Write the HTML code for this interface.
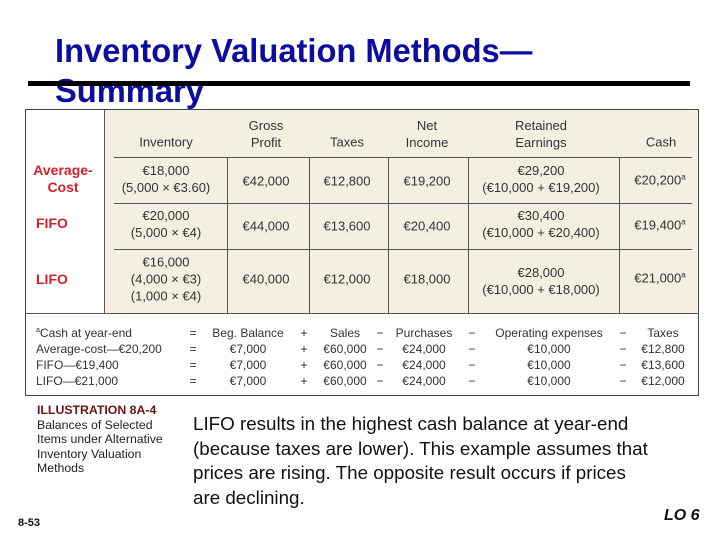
<!DOCTYPE html>
<html><head><meta charset="utf-8">
<style>
body{margin:0;width:720px;height:540px;background:#fff;position:relative;overflow:hidden;font-family:"Liberation Sans",sans-serif;}
.a{position:absolute;white-space:nowrap;}
.c{position:absolute;white-space:nowrap;transform:translate(-50%,-50%);font-size:13px;color:#333;line-height:1;}
.l{position:absolute;white-space:nowrap;transform:translateY(-50%);font-size:12.5px;color:#333;line-height:1;}
.r{color:#d4202a;font-weight:bold;font-size:14px;}
.hl{position:absolute;height:1px;background:#555;}
.vl{position:absolute;width:1px;background:#555;}
</style></head><body>
<div class="a" style="left:55px;top:31px;font-size:33px;font-weight:bold;color:#0c0ca0;line-height:40px;transform:scaleX(0.99);transform-origin:left top;">Inventory Valuation Methods—<br>Summary</div>
<div class="a" style="left:28px;top:81px;width:662px;height:5px;background:#000;"></div>

<div class="a" style="left:25px;top:109px;width:674px;height:287px;border:1px solid #444;box-sizing:border-box;background:#fff;"></div>
<div class="a" style="left:104px;top:110px;width:594px;height:203px;background:#f3f0e2;"></div>
<div class="vl" style="left:104px;top:110px;height:203px;"></div>
<div class="hl" style="left:25px;top:313px;width:674px;"></div>
<div class="hl" style="left:114px;top:157px;width:578px;"></div>
<div class="hl" style="left:114px;top:203px;width:578px;"></div>
<div class="hl" style="left:114px;top:249px;width:578px;"></div>
<div class="vl" style="left:227px;top:157px;height:156px;"></div>
<div class="vl" style="left:309px;top:157px;height:156px;"></div>
<div class="vl" style="left:388px;top:157px;height:156px;"></div>
<div class="vl" style="left:468px;top:157px;height:156px;"></div>
<div class="vl" style="left:619px;top:157px;height:156px;"></div>

<div class="c" style="left:166px;top:142px;">Inventory</div>
<div class="c" style="left:266px;top:134px;line-height:17px;text-align:center;">Gross<br>Profit</div>
<div class="c" style="left:347px;top:142px;">Taxes</div>
<div class="c" style="left:427px;top:134px;line-height:17px;text-align:center;">Net<br>Income</div>
<div class="c" style="left:541px;top:134px;line-height:17px;text-align:center;">Retained<br>Earnings</div>
<div class="c" style="left:661px;top:142px;">Cash</div>

<div class="c r" style="left:63px;top:179px;line-height:17px;text-align:center;">Average-<br>Cost</div>
<div class="l r" style="left:36px;top:223px;">FIFO</div>
<div class="l r" style="left:36px;top:279px;">LIFO</div>

<div class="c" style="left:166px;top:179px;line-height:17px;text-align:center;">€18,000<br>(5,000 × €3.60)</div>
<div class="c" style="left:266px;top:181px;">€42,000</div>
<div class="c" style="left:347px;top:181px;">€12,800</div>
<div class="c" style="left:427px;top:181px;">€19,200</div>
<div class="c" style="left:541px;top:179px;line-height:17px;text-align:center;">€29,200<br>(€10,000 + €19,200)</div>
<div class="c" style="left:660px;top:180px;">€20,200<sup style="font-size:8px">a</sup></div>

<div class="c" style="left:166px;top:224px;line-height:17px;text-align:center;">€20,000<br>(5,000 × €4)</div>
<div class="c" style="left:266px;top:226px;">€44,000</div>
<div class="c" style="left:347px;top:226px;">€13,600</div>
<div class="c" style="left:427px;top:226px;">€20,400</div>
<div class="c" style="left:541px;top:224px;line-height:17px;text-align:center;">€30,400<br>(€10,000 + €20,400)</div>
<div class="c" style="left:660px;top:225px;">€19,400<sup style="font-size:8px">a</sup></div>

<div class="c" style="left:166px;top:279px;line-height:17px;text-align:center;">€16,000<br>(4,000 × €3)<br>(1,000 × €4)</div>
<div class="c" style="left:266px;top:279px;">€40,000</div>
<div class="c" style="left:347px;top:279px;">€12,000</div>
<div class="c" style="left:427px;top:279px;">€18,000</div>
<div class="c" style="left:541px;top:281px;line-height:17px;text-align:center;">€28,000<br>(€10,000 + €18,000)</div>
<div class="c" style="left:660px;top:278px;">€21,000<sup style="font-size:8px">a</sup></div>

<div style="position:absolute;left:0;top:0;">
<div class="l" style="left:36px;top:333px;font-size:12px;"><sup style="font-size:7px">a</sup>Cash at year-end</div>
<div class="l" style="left:36px;top:349px;font-size:12px;">Average-cost—€20,200</div>
<div class="l" style="left:36px;top:365px;font-size:12px;">FIFO—€19,400</div>
<div class="l" style="left:36px;top:381px;font-size:12px;">LIFO—€21,000</div>
<div class="c" style="left:193px;top:333px;font-size:12px;">=</div>
<div class="c" style="left:193px;top:349px;font-size:12px;">=</div>
<div class="c" style="left:193px;top:365px;font-size:12px;">=</div>
<div class="c" style="left:193px;top:381px;font-size:12px;">=</div>
<div class="c" style="left:248px;top:333px;font-size:12px;">Beg. Balance</div>
<div class="c" style="left:248px;top:349px;font-size:12px;">€7,000</div>
<div class="c" style="left:248px;top:365px;font-size:12px;">€7,000</div>
<div class="c" style="left:248px;top:381px;font-size:12px;">€7,000</div>
<div class="c" style="left:304px;top:333px;font-size:12px;">+</div>
<div class="c" style="left:304px;top:349px;font-size:12px;">+</div>
<div class="c" style="left:304px;top:365px;font-size:12px;">+</div>
<div class="c" style="left:304px;top:381px;font-size:12px;">+</div>
<div class="c" style="left:345px;top:333px;font-size:12px;">Sales</div>
<div class="c" style="left:345px;top:349px;font-size:12px;">€60,000</div>
<div class="c" style="left:345px;top:365px;font-size:12px;">€60,000</div>
<div class="c" style="left:345px;top:381px;font-size:12px;">€60,000</div>
<div class="c" style="left:380px;top:333px;font-size:12px;">−</div>
<div class="c" style="left:380px;top:349px;font-size:12px;">−</div>
<div class="c" style="left:380px;top:365px;font-size:12px;">−</div>
<div class="c" style="left:380px;top:381px;font-size:12px;">−</div>
<div class="c" style="left:424px;top:333px;font-size:12px;">Purchases</div>
<div class="c" style="left:424px;top:349px;font-size:12px;">€24,000</div>
<div class="c" style="left:424px;top:365px;font-size:12px;">€24,000</div>
<div class="c" style="left:424px;top:381px;font-size:12px;">€24,000</div>
<div class="c" style="left:472px;top:333px;font-size:12px;">−</div>
<div class="c" style="left:472px;top:349px;font-size:12px;">−</div>
<div class="c" style="left:472px;top:365px;font-size:12px;">−</div>
<div class="c" style="left:472px;top:381px;font-size:12px;">−</div>
<div class="c" style="left:549px;top:333px;font-size:12px;">Operating expenses</div>
<div class="c" style="left:549px;top:349px;font-size:12px;">€10,000</div>
<div class="c" style="left:549px;top:365px;font-size:12px;">€10,000</div>
<div class="c" style="left:549px;top:381px;font-size:12px;">€10,000</div>
<div class="c" style="left:623px;top:333px;font-size:12px;">−</div>
<div class="c" style="left:623px;top:349px;font-size:12px;">−</div>
<div class="c" style="left:623px;top:365px;font-size:12px;">−</div>
<div class="c" style="left:623px;top:381px;font-size:12px;">−</div>
<div class="c" style="left:663px;top:333px;font-size:12px;">Taxes</div>
<div class="c" style="left:663px;top:349px;font-size:12px;">€12,800</div>
<div class="c" style="left:663px;top:365px;font-size:12px;">€13,600</div>
<div class="c" style="left:663px;top:381px;font-size:12px;">€12,000</div>
</div>

<div class="a" style="left:37px;top:403px;font-size:12.3px;line-height:14.5px;color:#222;">
<span style="font-weight:bold;color:#6a1414;">ILLUSTRATION 8A-4</span><br>Balances of Selected<br>Items under Alternative<br>Inventory Valuation<br>Methods</div>
<div class="a" style="left:193px;top:412px;font-size:18.8px;line-height:24.7px;color:#111;">LIFO results in the highest cash balance at year-end<br>(because taxes are lower). This example assumes that<br>prices are rising. The opposite result occurs if prices<br>are declining.</div>
<div class="a" style="left:18px;top:517px;font-size:11px;font-weight:bold;color:#111;">8-53</div>
<div class="a" style="left:664px;top:507px;font-size:16px;font-weight:bold;font-style:italic;color:#111;">LO 6</div>
</body></html>
